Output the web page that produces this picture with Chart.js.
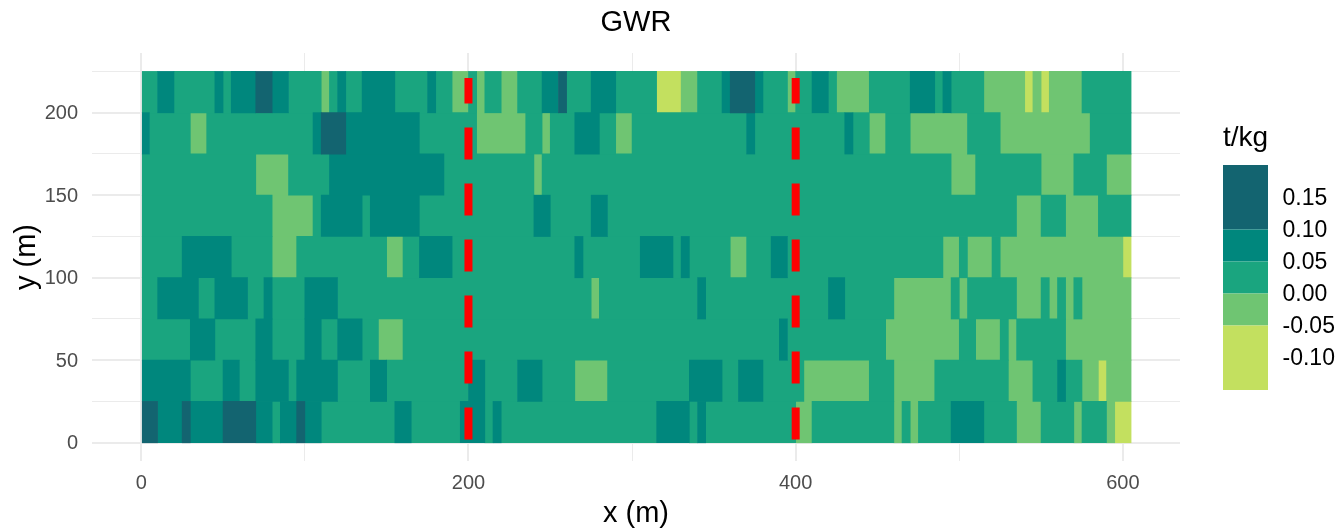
<!DOCTYPE html>
<html><head><meta charset="utf-8">
<style>html,body{margin:0;padding:0;background:#fff}canvas{display:block}</style>
<script src="https://cdn.jsdelivr.net/npm/chart.js@4/dist/chart.umd.min.js"></script>
</head><body><canvas id="c" width="1337" height="530"></canvas>
<script>
const D=0.125,T=0.075,G=0.025,L=-0.025,Y=-0.075;
const classValues=[D,T,G,L,Y];
const classColors=['#136470','#00877D','#1AA57F','#6FC572','#C3E05F'];
const xMajor=[0,200,400,600], xMinor=[100,300,500];
const yMajor=[0,50,100,150,200], yMinor=[25,75,125,175,225];
const legendLabels=['0.15','0.10','0.05','0.00','-0.05','-0.10'];
const cellWidth=5, cellHeight=25, cellCount=121, baseValue=G;
// [first column, end column, value]; every other column of the row holds baseValue
const row0=[[0,2,D],[2,5,T],[5,6,D],[6,10,T],[10,14,D],[14,16,T],[17,19,T],[19,20,D],[20,22,T],[31,33,T],[39,42,T],[43,44,T],[63,67,T],[68,69,T],[80,82,L],[92,93,L],[94,95,L],[99,103,T],[107,110,L],[114,115,L],[118,119,L],[119,121,Y]];
const row1=[[0,6,T],[10,12,T],[14,18,T],[19,24,T],[28,30,T],[40,42,T],[46,49,T],[53,57,L],[67,71,T],[73,76,T],[81,89,L],[92,97,L],[106,109,L],[112,113,T],[115,117,L],[117,118,Y],[118,121,L]];
const row2=[[6,9,T],[14,16,T],[20,22,T],[24,27,T],[29,32,L],[78,79,T],[91,100,L],[102,105,L],[106,107,L],[113,121,L]];
const row3=[[2,7,T],[9,13,T],[15,16,T],[20,24,T],[55,56,L],[68,69,T],[84,86,T],[92,99,L],[100,101,L],[107,110,L],[111,112,L],[113,114,L],[115,121,L]];
const row4=[[5,11,T],[16,19,L],[30,32,L],[34,38,T],[53,54,T],[61,65,T],[66,67,T],[72,74,L],[77,79,T],[98,100,L],[101,104,L],[105,120,L],[120,121,Y]];
const row5=[[16,21,L],[22,27,T],[28,34,T],[48,50,T],[55,57,T],[107,110,L],[113,117,L]];
const row6=[[14,18,L],[23,37,T],[48,49,L],[99,102,L],[110,114,L],[118,121,L]];
const row7=[[0,1,T],[6,8,L],[21,22,T],[22,25,D],[25,34,T],[41,47,L],[49,50,L],[53,56,T],[58,60,L],[74,75,T],[86,87,T],[89,91,L],[94,101,L],[105,116,L]];
const row8=[[2,4,T],[9,10,T],[11,14,T],[14,16,D],[16,18,T],[22,23,L],[24,25,T],[27,31,T],[35,36,T],[38,40,L],[41,42,L],[44,46,L],[49,51,T],[51,52,D],[55,58,T],[63,66,Y],[66,68,L],[71,72,T],[72,75,D],[75,76,T],[79,80,L],[82,84,T],[85,89,L],[94,97,T],[98,99,T],[103,108,L],[108,109,Y],[109,110,L],[110,111,Y],[111,115,L]];
const rows=[row0,row1,row2,row3,row4,row5,row6,row7,row8];
const guideX=[200,400], guideY=[2,221];

const cellSets=classValues.map(()=>[]);
rows.forEach((patches,r)=>{
  const cells=new Array(cellCount).fill(baseValue);
  patches.forEach(([a,b,v])=>{for(let k=a;k<b;k++)cells[k]=v;});
  let s=0;
  for(let k=1;k<=cellCount;k++){
    if(k===cellCount||cells[k]!==cells[s]){
      cellSets[classValues.indexOf(cells[s])].push({x:[s*cellWidth,k*cellWidth],y:(r+0.5)*cellHeight});
      s=k;
    }
  }
});
const datasets=[
  ...guideX.map(x=>({type:'scatter',showLine:true,order:0,data:guideY.map(y=>({x,y})),borderColor:'#FF0000',borderWidth:8,borderDash:[32,24],borderCapStyle:'butt',pointRadius:0})),
  ...cellSets.map((data,i)=>({type:'bar',order:1,indexAxis:'y',grouped:false,data,backgroundColor:classColors[i],borderWidth:0,barThickness:41.4}))
];
const colorbar={id:'colorbar',afterDraw(ch){
  const c=ch.ctx; c.save();
  const edges=[165,229.5,261.5,293.5,325.5,390];
  classColors.forEach((col,i)=>{c.fillStyle=col;c.fillRect(1223,edges[i],45,edges[i+1]-edges[i]);});
  c.fillStyle='#000';c.textBaseline='middle';c.textAlign='left';
  c.font='28px "Liberation Sans"';c.fillText('t/kg',1223,138.5);
  c.font='23px "Liberation Sans"';
  legendLabels.forEach((t,i)=>c.fillText(t,1282.5,199+32*i));
  c.restore();
}};
const grid=(major)=>({color:'#EBEBEB',offset:false,lineWidth:ctx=>ctx.tick&&major.includes(ctx.tick.value)?2:1,drawTicks:false});
const tickFont={family:'"Liberation Sans"',size:20};
new Chart(document.getElementById('c'),{
  data:{datasets},
  plugins:[colorbar],
  options:{responsive:false,animation:false,
    layout:{padding:{left:0,right:157,top:0,bottom:0},autoPadding:false},
    plugins:{legend:{display:false},tooltip:{enabled:false},
      title:{display:true,text:'GWR',fullSize:false,color:'#000',font:{family:'"Liberation Sans"',size:29,weight:'normal'},padding:{top:5.5,bottom:12.7}}},
    scales:{
      x:{type:'linear',offset:false,min:-30.1,max:634.9,position:'bottom',grid:grid(xMajor),border:{display:false},
        afterFit:s=>{s.height=69;},
        afterBuildTicks:s=>{s.ticks=[...xMajor,...xMinor].sort((a,b)=>a-b).map(value=>({value}));},
        ticks:{autoSkip:false,maxRotation:0,padding:10,color:'#4D4D4D',font:tickFont,callback:v=>xMajor.includes(v)?String(v):''},
        title:{display:true,text:'x (m)',color:'#000',font:{family:'"Liberation Sans"',size:29},padding:{top:0,bottom:-1.4}}},
      y:{type:'linear',offset:false,min:-11.1,max:236.2,position:'left',grid:grid(yMajor),border:{display:false},
        afterFit:s=>{s.width=92;},
        afterBuildTicks:s=>{s.ticks=[...yMajor,...yMinor].sort((a,b)=>a-b).map(value=>({value}));},
        ticks:{autoSkip:false,padding:14,labelOffset:1,color:'#4D4D4D',font:tickFont,callback:v=>yMajor.includes(v)?String(v):''},
        title:{display:true,text:'y (m)',color:'#000',font:{family:'"Liberation Sans"',size:29},padding:{top:10,bottom:0}}}
    }
  }
});
</script></body></html>
